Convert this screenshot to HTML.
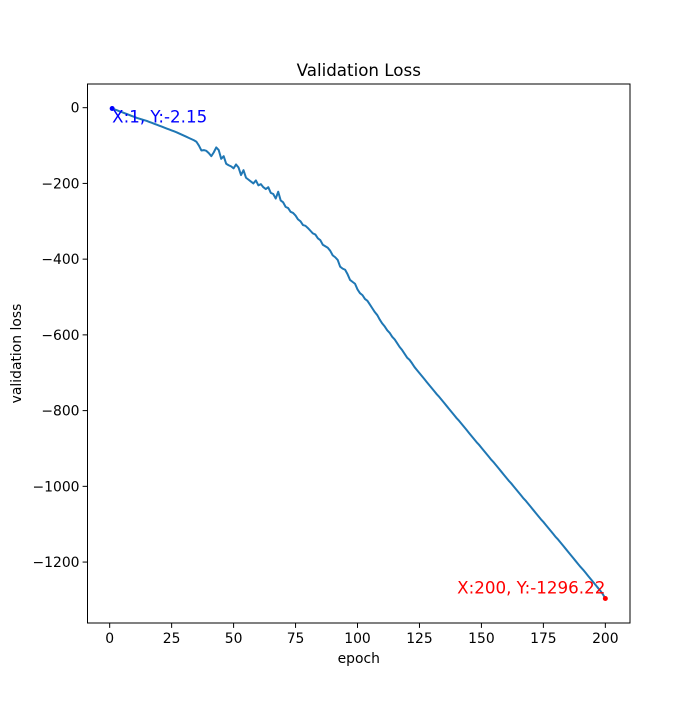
<!DOCTYPE html>
<html><head><meta charset="utf-8"><style>
body{margin:0;background:#fff;}
svg text{font-family:"DejaVu Sans","Liberation Sans",sans-serif;}
</style></head><body>
<svg id="chart" width="700" height="700" xmlns="http://www.w3.org/2000/svg">
<rect width="700" height="700" fill="#fff"/>
<g id="plot"></g>
</svg>
<script>
const epochs = Array.from({length:200},(_,i)=>i+1);
const lossValues = [
-2.15,-4.5,-7,-9.5,-12,-14.5,-17,-19.5,-22,-24.5,
-27,-29,-31,-33,-35,-37.5,-40,-42.5,-45,-47.5,
-50,-52.5,-55,-57.5,-60,-62.5,-65,-68,-71,-74,
-77,-80,-83,-86,-90,
-100,-113,-112,-114,-120,-128,-118,-105,-112,-135,-128,-148,-152,-155,-160,
-150,-158,-178,-165,-185,-190,-195,-200,-192,-205,-202,-210,-215,-210,-225,
-228,-240,-222,-245,-250,-262,-265,-275,-278,-285,-295,-300,-310,-312,-318,
-325,-332,-335,-345,-350,-362,-366,-370,-378,-390,-395,-402,-420,-425,-428,
-440,-455,-460,-465,-480,-490,-495,-505,-510,-520,-530,-540,-548,-560,-570,
-578,-588,-595,-605,-612,-622,-632,-640,-650,-660,-666,-675,-685,-693,-701,
-709,-717,-725,-733,-741,-749,-757,-764,-772,-780,
-788,-796,-804,-812,-820,-827,-835,-843,-851,-859,
-867,-875,-883,-890,-898,-906,-914,-922,-930,-937,
-945,-953,-961,-969,-977,-985,-992,-1000,-1008,-1016,
-1024,-1032,-1039,-1047,-1055,-1063,-1071,-1079,-1087,-1094,
-1102,-1110,-1118,-1126,-1134,-1141,-1149,-1157,-1165,-1173,
-1181,-1189,-1197,-1205,-1213,-1220,-1228,-1236,-1244,-1252,
-1260,-1268,-1276,-1285,-1296.22];
const xTicks = [0,25,50,75,100,125,150,175,200];
const yTicks = [0,-200,-400,-600,-800,-1000,-1200];

const L=87.5,R=630,T=84,B=623;
const xmin=Math.min(...epochs),xmax=Math.max(...epochs),xm=(xmax-xmin)*0.05;
const ymin=Math.min(...lossValues),ymax=Math.max(...lossValues),ym=(ymax-ymin)*0.05;
const X=v=>L+(v-(xmin-xm))/((xmax+xm)-(xmin-xm))*(R-L);
const Y=v=>B-(v-(ymin-ym))/((ymax+ym)-(ymin-ym))*(B-T);
const NS="http://www.w3.org/2000/svg";
const g=document.getElementById('plot');
function mk(tag,attrs,text){const e=document.createElementNS(NS,tag);for(const k in attrs)e.setAttribute(k,attrs[k]);if(text!==undefined)e.textContent=text;g.appendChild(e);return e;}

let d='';
epochs.forEach((e,i)=>{d+=(i?'L':'M')+X(e).toFixed(2)+' '+Y(lossValues[i]).toFixed(2);});
const line=mk('path',{d:d,fill:'none',stroke:'#1f77b4','stroke-width':2,'stroke-linejoin':'round'});



const frame=mk('rect',{x:L,y:T,width:R-L,height:B-T,fill:'none',stroke:'#000','stroke-width':1});



xTicks.forEach(t=>{
  const x=X(t);
  mk('line',{x1:x,x2:x,y1:B,y2:B+4.9,stroke:'#000','stroke-width':1});
  const tx=mk('text',{x:x,y:B+20,'font-size':'13.9','text-anchor':'middle'},String(t));
  
  
});
yTicks.forEach(t=>{
  const y=Y(t);
  mk('line',{x1:L,x2:L-4.9,y1:y,y2:y,stroke:'#000','stroke-width':1});
  const tx=mk('text',{x:L-8,y:y+5,'font-size':'13.9','text-anchor':'end'},t<0?'\u2212'+Math.abs(t):String(t));
  
  
});

const title=mk('text',{x:(L+R)/2,y:76,'font-size':'16.7','text-anchor':'middle'},'Validation Loss');


const xl=mk('text',{x:(L+R)/2,y:663,'font-size':'13.9','text-anchor':'middle'},'epoch');


const yl=mk('text',{x:21,y:(T+B)/2,'font-size':'13.9','text-anchor':'middle',transform:'rotate(-90 21 '+((T+B)/2)+')'},'validation loss');



const n=lossValues.length-1;
const p0=mk('circle',{cx:X(epochs[0]),cy:Y(lossValues[0]),r:2.5,fill:'blue'});


const a0=mk('text',{x:X(epochs[0]),y:Y(lossValues[0])+14,'font-size':'16.7',fill:'blue'},'X:'+epochs[0]+', Y:'+lossValues[0].toFixed(2));


const p1=mk('circle',{cx:X(epochs[n]),cy:Y(lossValues[n]),r:2.5,fill:'red'});


const a1=mk('text',{x:X(epochs[n]),y:Y(lossValues[n])-5,'font-size':'16.7',fill:'red','text-anchor':'end'},'X:'+epochs[n]+', Y:'+lossValues[n].toFixed(2));


</script>
</body></html>
